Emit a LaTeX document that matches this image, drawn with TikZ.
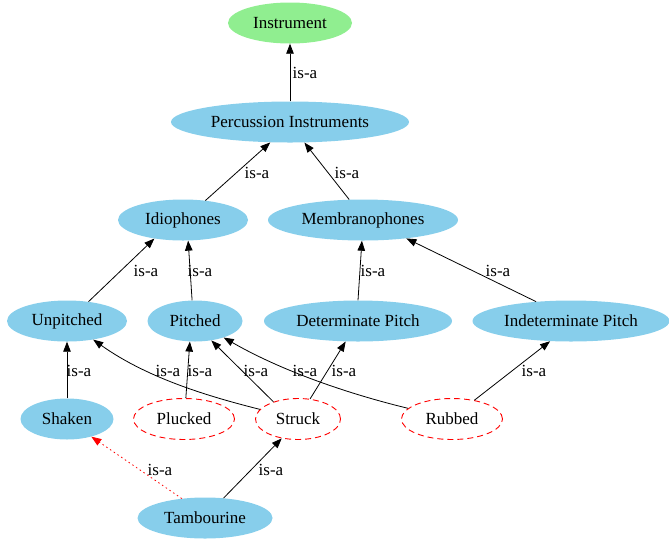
\documentclass[tikz,border=0pt]{standalone}
\usepackage{fontspec}
\setmainfont{Liberation Serif}
\usetikzlibrary{shapes.geometric,arrows.meta}
\definecolor{skyblue}{HTML}{87CEEB}
\definecolor{lightgreen}{HTML}{90EE90}
\tikzset{
	concept/.style={ellipse,fill=skyblue,inner sep=0pt,minimum height=41pt},
	rootconcept/.style={concept,fill=lightgreen},
	openconcept/.style={ellipse,draw=red,dash pattern=on 6pt off 4pt,line width=0.9pt,fill=white,inner sep=0pt,minimum height=41pt},
	isa/.style={-{Triangle[length=10pt,width=7.5pt]},line width=0.8pt},
	lbl/.style={inner sep=0pt}
}
\begin{document}
\begin{tikzpicture}[x=1pt,y=-1pt,line join=round,font=\fontsize{17}{19}\selectfont]
	\useasboundingbox (0,0) rectangle (669,539);
	%==Các khái niệm
	\node[rootconcept,minimum width=124pt] (Instrument) at (290,23) {Instrument};
	\node[concept,minimum width=238pt] (Percussion) at (290,122) {Percussion Instruments};
	\node[concept,minimum width=130pt] (Idiophones) at (183,220) {Idiophones};
	\node[concept,minimum width=190pt] (Membranophones) at (363,220) {Membranophones};
	\node[concept,minimum width=120pt] (Unpitched) at (67,321) {Unpitched};
	\node[concept,minimum width=95pt] (Pitched) at (195,321) {Pitched};
	\node[concept,minimum width=188pt] (Determinate) at (358,321) {Determinate Pitch};
	\node[concept,minimum width=197pt] (Indeterminate) at (571,321) {Indeterminate Pitch};
	\node[concept,minimum width=93pt] (Shaken) at (67,419) {Shaken};
	\node[openconcept,minimum width=101pt] (Plucked) at (184,419) {Plucked};
	\node[openconcept,minimum width=85pt] (Struck) at (298,419) {Struck};
	\node[openconcept,minimum width=101pt] (Rubbed) at (452,419) {Rubbed};
	\node[concept,minimum width=135pt] (Tambourine) at (205,518) {Tambourine};
	%==Quan hệ is-a
	\draw[isa] (Percussion.north)--(Instrument.south);
	\draw[isa] (Idiophones.41)--(Percussion.226);
	\draw[isa] (Membranophones.124)--(Percussion.305);
	\draw[isa] (Unpitched.42)--(Idiophones.213);
	\draw[isa] (Pitched.98)--(Idiophones.284);
	\draw[isa] (Determinate.north)--(Membranophones.267);
	\draw[isa] (Indeterminate.151)--(Membranophones.337);
	\draw[isa] (Shaken.north)--(Unpitched.south);
	\draw[isa] (Struck) .. controls (215,398) and (150,380) .. (Unpitched);
	\draw[isa] (Plucked.85)--(Pitched.256);
	\draw[isa] (Struck.145)--(Pitched.310);
	\draw[isa] (Rubbed) .. controls (345,393) and (280,370) .. (Pitched);
	\draw[isa] (Struck.59)--(Determinate.239);
	\draw[isa] (Rubbed.40)--(Indeterminate.224);
	\draw[isa,red,dash pattern=on 1.5pt off 3pt] (Tambourine.140)--(Shaken.324);
	\draw[isa] (Tambourine.47)--(Struck.230);
	%==Nhãn
	\node[lbl] (l1) at (305,73) {is-a};
	\node[lbl] (l2) at (257,173) {is-a};
	\node[lbl] (l3) at (347,173) {is-a};
	\node[lbl] (l4) at (146,271) {is-a};
	\node[lbl] (l5) at (200,271) {is-a};
	\node[lbl] (l6) at (373,271) {is-a};
	\node[lbl] (l7) at (498,271) {is-a};
	\node[lbl] (l8) at (79,371) {is-a};
	\node[lbl] (l9) at (168,371) {is-a};
	\node[lbl] (l10) at (200,371) {is-a};
	\node[lbl] (l11) at (256,371) {is-a};
	\node[lbl] (l12) at (305,371) {is-a};
	\node[lbl] (l13) at (344,371) {is-a};
	\node[lbl] (l14) at (534,371) {is-a};
	\node[lbl] (l15) at (160,470) {is-a};
	\node[lbl] (l16) at (271,470) {is-a};
\end{tikzpicture}
\end{document}
